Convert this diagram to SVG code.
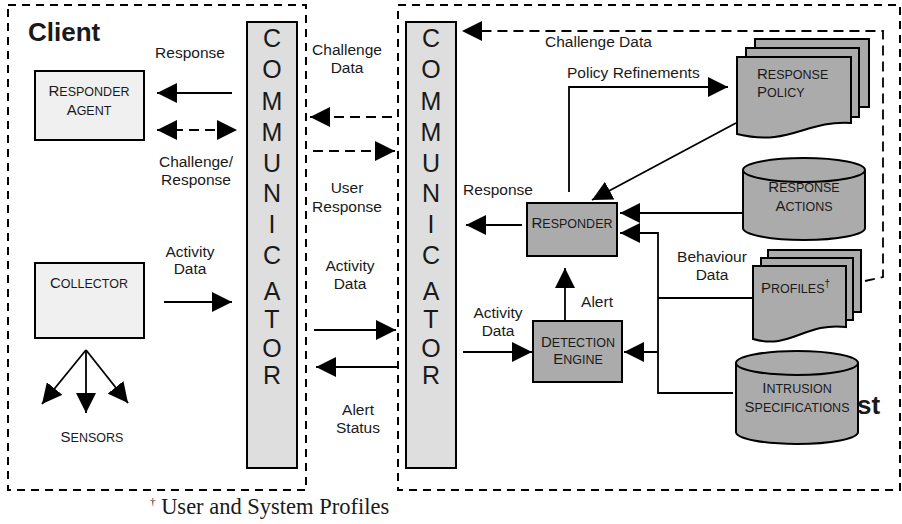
<svg xmlns="http://www.w3.org/2000/svg" width="902" height="524" viewBox="0 0 902 524">
<defs>
<style>
text{font-family:"Liberation Sans",Arial,sans-serif;fill:#1a1a1a}
.lbl{font-size:15.5px}
.big{font-size:15px}
.sm{font-size:12.5px}
.comm{font-size:25px}
.title{font-size:26px;font-weight:bold}
.foot{font-family:"Liberation Serif","Times New Roman",serif;font-size:22.5px}
.box{stroke:#000;stroke-width:2}
.dash{fill:none;stroke:#000;stroke-width:2;stroke-dasharray:8,6}
.ln{fill:none;stroke:#000;stroke-width:1.8}
.dl{fill:none;stroke:#000;stroke-width:1.8;stroke-dasharray:10,6}
.light{fill:#f0f0f0}
.cfill{fill:#dedede}
.gray{fill:#ababab}
</style>
<marker id="ah" markerUnits="userSpaceOnUse" markerWidth="20" markerHeight="20" refX="20" refY="10" orient="auto-start-reverse">
<path d="M0,0 L20,10 L0,20 z" fill="#000"/>
</marker>
</defs>
<rect width="902" height="524" fill="#fff"/>

<g id="client-boundary">
<rect x="8" y="5" width="298" height="485" class="dash"/>
<text x="28" y="41" class="title">Client</text>
</g>
<g id="host-boundary">
<rect x="398" y="5" width="502" height="485" class="dash"/>
</g>

<g id="connectors">
<line x1="232" y1="93" x2="157" y2="93" class="ln" marker-end="url(#ah)"/>
<line x1="157" y1="130" x2="237" y2="130" class="dl" marker-start="url(#ah)" marker-end="url(#ah)"/>
<line x1="164" y1="302" x2="232" y2="302" class="ln" marker-end="url(#ah)"/>
<line x1="86" y1="350" x2="42" y2="404" class="ln" marker-end="url(#ah)"/>
<line x1="86" y1="350" x2="86" y2="413" class="ln" marker-end="url(#ah)"/>
<line x1="86" y1="350" x2="128" y2="403" class="ln" marker-end="url(#ah)"/>
<line x1="392" y1="117" x2="310" y2="117" class="dl" marker-end="url(#ah)"/>
<line x1="313" y1="151" x2="395" y2="151" class="dl" marker-end="url(#ah)"/>
<line x1="314" y1="330" x2="396" y2="330" class="ln" marker-end="url(#ah)"/>
<line x1="397" y1="367" x2="316" y2="367" class="ln" marker-end="url(#ah)"/>
<polyline points="865,281 883,277 883,31 462,31" class="dl" marker-end="url(#ah)"/>
<polyline points="569,192 569,87 728,87" class="ln" marker-end="url(#ah)"/>
<line x1="736" y1="123" x2="592" y2="200" class="ln" marker-end="url(#ah)"/>
<line x1="742" y1="213" x2="620" y2="213" class="ln" marker-end="url(#ah)"/>
<polyline points="733,393 658,393 658,233 620,233" class="ln" marker-end="url(#ah)"/>
<line x1="658" y1="298" x2="752" y2="298" class="ln"/>
<line x1="658" y1="352" x2="624" y2="352" class="ln" marker-end="url(#ah)"/>
<line x1="522" y1="225" x2="466" y2="225" class="ln" marker-end="url(#ah)"/>
<line x1="565" y1="320" x2="565" y2="268" class="ln" marker-end="url(#ah)"/>
<line x1="463" y1="352" x2="532" y2="352" class="ln" marker-end="url(#ah)"/>
</g>

<g id="connector-labels">
<text x="190" y="58" class="lbl" text-anchor="middle">Response</text>
<text x="196" y="167" class="lbl" text-anchor="middle">Challenge/</text>
<text x="196" y="185" class="lbl" text-anchor="middle">Response</text>
<text x="190" y="257" class="lbl" text-anchor="middle">Activity</text>
<text x="190" y="274" class="lbl" text-anchor="middle">Data</text>
<text x="347" y="55" class="lbl" text-anchor="middle">Challenge</text>
<text x="347" y="73" class="lbl" text-anchor="middle">Data</text>
<text x="347" y="193" class="lbl" text-anchor="middle">User</text>
<text x="347" y="212" class="lbl" text-anchor="middle">Response</text>
<text x="350" y="271" class="lbl" text-anchor="middle">Activity</text>
<text x="350" y="289" class="lbl" text-anchor="middle">Data</text>
<text x="358" y="415" class="lbl" text-anchor="middle">Alert</text>
<text x="358" y="433" class="lbl" text-anchor="middle">Status</text>
<text x="545" y="47" class="lbl">Challenge Data</text>
<text x="567" y="78" class="lbl">Policy Refinements</text>
<text x="498" y="195" class="lbl" text-anchor="middle">Response</text>
<text x="712" y="262" class="lbl" text-anchor="middle">Behaviour</text>
<text x="712" y="280" class="lbl" text-anchor="middle">Data</text>
<text x="597" y="307" class="lbl" text-anchor="middle">Alert</text>
<text x="498" y="318" class="lbl" text-anchor="middle">Activity</text>
<text x="498" y="336" class="lbl" text-anchor="middle">Data</text>
</g>

<g id="responder-agent">
<rect x="35" y="71" width="109" height="69" class="box light"/>
<text x="89" y="96" text-anchor="middle"><tspan class="big">R</tspan><tspan class="sm">ESPONDER</tspan></text>
<text x="89" y="115" text-anchor="middle"><tspan class="big">A</tspan><tspan class="sm">GENT</tspan></text>
</g>
<g id="collector">
<rect x="35" y="263" width="109" height="75" class="box light"/>
<text x="89" y="288" text-anchor="middle"><tspan class="big">C</tspan><tspan class="sm">OLLECTOR</tspan></text>
</g>
<g id="sensors">
<text x="92" y="442" text-anchor="middle"><tspan class="big">S</tspan><tspan class="sm">ENSORS</tspan></text>
</g>

<g id="client-communicator">
<rect x="247" y="22" width="50" height="446" class="box cfill"/>
<g class="comm" text-anchor="middle">
<text x="272" y="47">C</text><text x="272" y="78">O</text><text x="272" y="110">M</text><text x="272" y="141">M</text><text x="272" y="172">U</text><text x="272" y="202">N</text><text x="272" y="233">I</text><text x="272" y="264">C</text><text x="272" y="300">A</text><text x="272" y="328">T</text><text x="272" y="357">O</text><text x="272" y="384">R</text>
</g>
</g>
<g id="host-communicator">
<rect x="406" y="22" width="50" height="446" class="box cfill"/>
<g class="comm" text-anchor="middle">
<text x="431" y="47">C</text><text x="431" y="78">O</text><text x="431" y="110">M</text><text x="431" y="141">M</text><text x="431" y="172">U</text><text x="431" y="202">N</text><text x="431" y="233">I</text><text x="431" y="264">C</text><text x="431" y="300">A</text><text x="431" y="328">T</text><text x="431" y="357">O</text><text x="431" y="384">R</text>
</g>
</g>

<g id="response-policy">
<rect x="755" y="39" width="114" height="68" class="box gray"/>
<rect x="746" y="48" width="113" height="69" class="box gray"/>
<path d="M737,57 H851 V123 C805,120 790,147 737,134 Z" class="box gray"/>
<text x="757" y="79"><tspan class="big">R</tspan><tspan class="sm">ESPONSE</tspan></text>
<text x="757" y="97"><tspan class="big">P</tspan><tspan class="sm">OLICY</tspan></text>
</g>

<g id="response-actions">
<path d="M743,170 V228 A61,12 0 0 0 865,228 V170" class="box gray"/>
<ellipse cx="804" cy="170" rx="61" ry="12" class="box gray"/>
<text x="804" y="192" text-anchor="middle"><tspan class="big">R</tspan><tspan class="sm">ESPONSE</tspan></text>
<text x="804" y="211" text-anchor="middle"><tspan class="big">A</tspan><tspan class="sm">CTIONS</tspan></text>
</g>

<g id="responder">
<rect x="527" y="203" width="90" height="53" class="box gray"/>
<text x="572" y="228" text-anchor="middle"><tspan class="big">R</tspan><tspan class="sm">ESPONDER</tspan></text>
</g>

<g id="detection-engine">
<rect x="533" y="321" width="89" height="61" class="box gray"/>
<text x="578" y="347" text-anchor="middle"><tspan class="big">D</tspan><tspan class="sm">ETECTION</tspan></text>
<text x="578" y="364" text-anchor="middle"><tspan class="big">E</tspan><tspan class="sm">NGINE</tspan></text>
</g>

<g id="profiles">
<rect x="768" y="250" width="93" height="62" class="box gray"/>
<rect x="761" y="258" width="92" height="62" class="box gray"/>
<path d="M753,266 H846 V327 C805,322 790,350 753,339 Z" class="box gray"/>
<text x="761" y="293"><tspan class="big">P</tspan><tspan class="sm">ROFILES</tspan><tspan font-size="10" dy="-6">†</tspan></text>
</g>

<g id="host-label">
<text x="857" y="414" class="title">st</text>
</g>

<g id="intrusion-specifications">
<path d="M736,363 V432 A61,12 0 0 0 858,432 V363" class="box gray"/>
<ellipse cx="797" cy="363" rx="61" ry="12" class="box gray"/>
<text x="797" y="393" text-anchor="middle"><tspan class="big">I</tspan><tspan class="sm">NTRUSION</tspan></text>
<text x="797" y="412" text-anchor="middle"><tspan class="big">S</tspan><tspan class="sm">PECIFICATIONS</tspan></text>
</g>

<g id="footnote">
<text x="150" y="514" class="foot"><tspan font-size="11" dy="-9">†</tspan><tspan dy="9"> User and System Profiles</tspan></text>
</g>
</svg>
